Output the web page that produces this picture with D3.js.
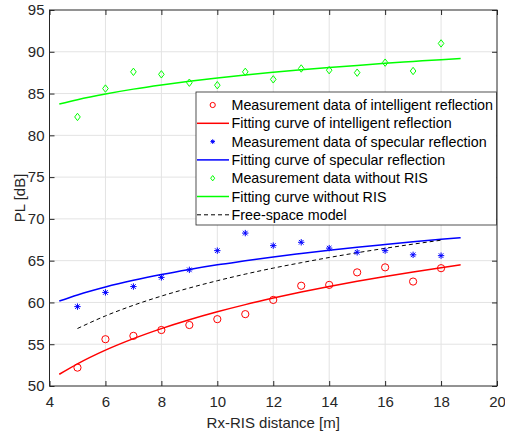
<!DOCTYPE html>
<html>
<head>
<meta charset="utf-8">
<script src="https://cdn.jsdelivr.net/npm/d3@7"></script>
<style>
  body { margin: 0; background: #fff; }
  svg { display: block; font-family: "Liberation Sans", Arial, sans-serif; }
</style>
</head>
<body>
<svg id="chart" width="505" height="433"></svg>
<script>
// measured distances [m]
var dist = [5, 6, 7, 8, 9, 10, 11, 12, 13, 14, 15, 16, 17, 18];
var pathLossIntelligent = [52.2, 55.6, 56.0, 56.7, 57.3, 58.0, 58.6, 60.3, 62.0, 62.1, 63.6, 64.2, 62.5, 64.1];
var pathLossSpecular = [59.5, 61.2, 61.9, 63.0, 63.9, 66.2, 68.3, 66.8, 67.2, 66.5, 66.0, 66.2, 65.7, 65.6];
var pathLossNoRis = [82.2, 85.6, 87.6, 87.3, 86.3, 86.0, 87.6, 86.7, 88.0, 87.8, 87.5, 88.7, 87.7, 91.0];

var fitDist = [4.35, 5, 6, 7, 8, 9, 10, 11, 12, 13, 14, 15, 16, 17, 18, 18.7];
var fitIntelligent = [51.4, 52.65, 54.29, 55.67, 56.87, 57.93, 58.88, 59.74, 60.52, 61.24, 61.9, 62.53, 63.11, 63.65, 64.16, 64.51];
var fitSpecular = [60.17, 60.9, 61.85, 62.65, 63.34, 63.95, 64.5, 64.98, 65.45, 65.86, 66.25, 66.61, 66.94, 67.26, 67.56, 67.75];
var fitNoRis = [83.75, 84.27, 84.95, 85.53, 86.03, 86.47, 86.86, 87.22, 87.54, 87.84, 88.12, 88.37, 88.62, 88.84, 89.06, 89.2];
var freeSpace = [56.88, 58.39, 59.66, 60.76, 61.73, 62.6, 63.39, 64.11, 64.76, 65.38, 65.95, 66.48, 66.98, 67.45];

var xTicks = [4, 6, 8, 10, 12, 14, 16, 18, 20];
var yTicks = [50, 55, 60, 65, 70, 75, 80, 85, 90, 95];

var legendLabels = [
  "Measurement data of intelligent reflection",
  "Fitting curve of intelligent reflection",
  "Measurement data of specular reflection",
  "Fitting curve of specular reflection",
  "Measurement data without RIS",
  "Fitting curve without RIS",
  "Free-space model"
];

var pLeft = 49.5, pRight = 497, pTop = 10, pBottom = 386;
var axisCol = "#262626";

var svg = d3.select("#chart");
var x = d3.scaleLinear().domain([4, 20]).range([pLeft, pRight]);
var y = d3.scaleLinear().domain([50, 95]).range([pBottom, pTop]);

// grid
var grid = svg.append("g").attr("stroke", "#e3e3e3").attr("stroke-width", 1);
grid.selectAll(".gx").data(xTicks.slice(1, -1)).enter().append("line")
  .attr("x1", d => x(d)).attr("x2", d => x(d)).attr("y1", pTop).attr("y2", pBottom);
grid.selectAll(".gy").data(yTicks.slice(1, -1)).enter().append("line")
  .attr("y1", d => y(d)).attr("y2", d => y(d)).attr("x1", pLeft).attr("x2", pRight);

// axes (ticks point inward like matlab)
function styleAxis(g) {
  g.select(".domain").remove();
  g.selectAll("line").attr("stroke", axisCol);
  g.selectAll("text").attr("fill", axisCol).style("font-size", "15px")
    .style("font-family", "'Liberation Sans', Arial, sans-serif");
}
svg.append("g").attr("transform", "translate(0," + pBottom + ")")
  .call(d3.axisBottom(x).tickValues(xTicks).tickSize(-5).tickPadding(10.5)).call(styleAxis);
svg.append("g").attr("transform", "translate(0," + pTop + ")")
  .call(d3.axisTop(x).tickValues(xTicks).tickSize(-5).tickFormat("")).call(styleAxis);
svg.append("g").attr("transform", "translate(" + pLeft + ",0)")
  .call(d3.axisLeft(y).tickValues(yTicks).tickSize(-5).tickPadding(5)).call(styleAxis);
svg.append("g").attr("transform", "translate(" + pRight + ",0)")
  .call(d3.axisRight(y).tickValues(yTicks).tickSize(-5).tickFormat("")).call(styleAxis);

svg.append("rect").attr("x", pLeft).attr("y", pTop)
  .attr("width", pRight - pLeft).attr("height", pBottom - pTop)
  .attr("fill", "none").attr("stroke", axisCol).attr("stroke-width", 1);

// curves
var line = d3.line().curve(d3.curveMonotoneX);
function drawCurve(xs, ys, color, dash, w) {
  svg.append("path")
    .attr("d", line(xs.map((d, i) => [x(d), y(ys[i])])))
    .attr("fill", "none").attr("stroke", color).attr("stroke-width", w)
    .attr("stroke-dasharray", dash);
}
drawCurve(fitDist, fitNoRis, "#00ff00", null, 1.5);
drawCurve(fitDist, fitSpecular, "#0000ff", null, 1.5);
drawCurve(fitDist, fitIntelligent, "#ff0000", null, 1.5);
drawCurve(dist, freeSpace, "#000", "4,3", 1);

// markers
function circlePath(k) { return d3.symbol(d3.symbolCircle, 41 * k * k)(); }
function starPath(k) {
  var r = 3.2 * k, s = r * 0.72;
  return "M" + -r + ",0L" + r + ",0M0," + -r + "L0," + r +
    "M" + -s + "," + -s + "L" + s + "," + s + "M" + -s + "," + s + "L" + s + "," + -s;
}
function diamondPath(k) {
  return "M0," + (-3.7 * k) + "L" + (2.8 * k) + ",0L0," + (3.7 * k) + "L" + (-2.8 * k) + ",0Z";
}

function drawMarkers(ys, pathFn, color) {
  svg.append("g").selectAll("path").data(dist).enter().append("path")
    .attr("transform", (d, i) => "translate(" + x(d) + "," + y(ys[i]) + ")")
    .attr("d", pathFn(1))
    .attr("fill", "none").attr("stroke", color).attr("stroke-width", 1);
}
drawMarkers(pathLossIntelligent, circlePath, "#ff0000");
drawMarkers(pathLossSpecular, starPath, "#0000ff");
drawMarkers(pathLossNoRis, diamondPath, "#00ff00");

// axis labels
svg.append("text").attr("x", (pLeft + pRight) / 2).attr("y", 427.5)
  .attr("text-anchor", "middle").attr("fill", axisCol).style("font-size", "15px")
  .text("Rx-RIS distance [m]");
svg.append("text").attr("transform", "translate(25," + (pTop + pBottom) / 2 + ") rotate(-90)")
  .attr("text-anchor", "middle").attr("fill", axisCol).style("font-size", "15px")
  .text("PL [dB]");

// legend
var lg = svg.append("g");
lg.append("rect").attr("x", 196).attr("y", 92).attr("width", 300.5).attr("height", 133)
  .attr("fill", "#fff").attr("stroke", axisCol).attr("stroke-width", 0.8);
var items = [
  { type: "marker", fn: circlePath, color: "#ff0000" },
  { type: "line", color: "#ff0000", w: 1.5 },
  { type: "marker", fn: starPath, color: "#0000ff" },
  { type: "line", color: "#0000ff", w: 1.5 },
  { type: "marker", fn: diamondPath, color: "#00ff00" },
  { type: "line", color: "#00ff00", w: 1.5 },
  { type: "line", color: "#000", w: 1, dash: "4,3" }
];
items.forEach(function (it, i) {
  var cy = 105 + i * 18.3;
  if (it.type === "marker") {
    lg.append("path").attr("transform", "translate(212.7," + cy + ")")
      .attr("d", it.fn(0.72)).attr("fill", "none").attr("stroke", it.color).attr("stroke-width", 1);
  } else {
    lg.append("line").attr("x1", 197).attr("x2", 229).attr("y1", cy).attr("y2", cy)
      .attr("stroke", it.color).attr("stroke-width", it.w).attr("stroke-dasharray", it.dash || null);
  }
  lg.append("text").attr("x", 231.5).attr("y", cy).attr("dy", "0.36em")
    .style("font-size", "14.3px").attr("fill", "#000").text(legendLabels[i]);
});
</script>
</body>
</html>
